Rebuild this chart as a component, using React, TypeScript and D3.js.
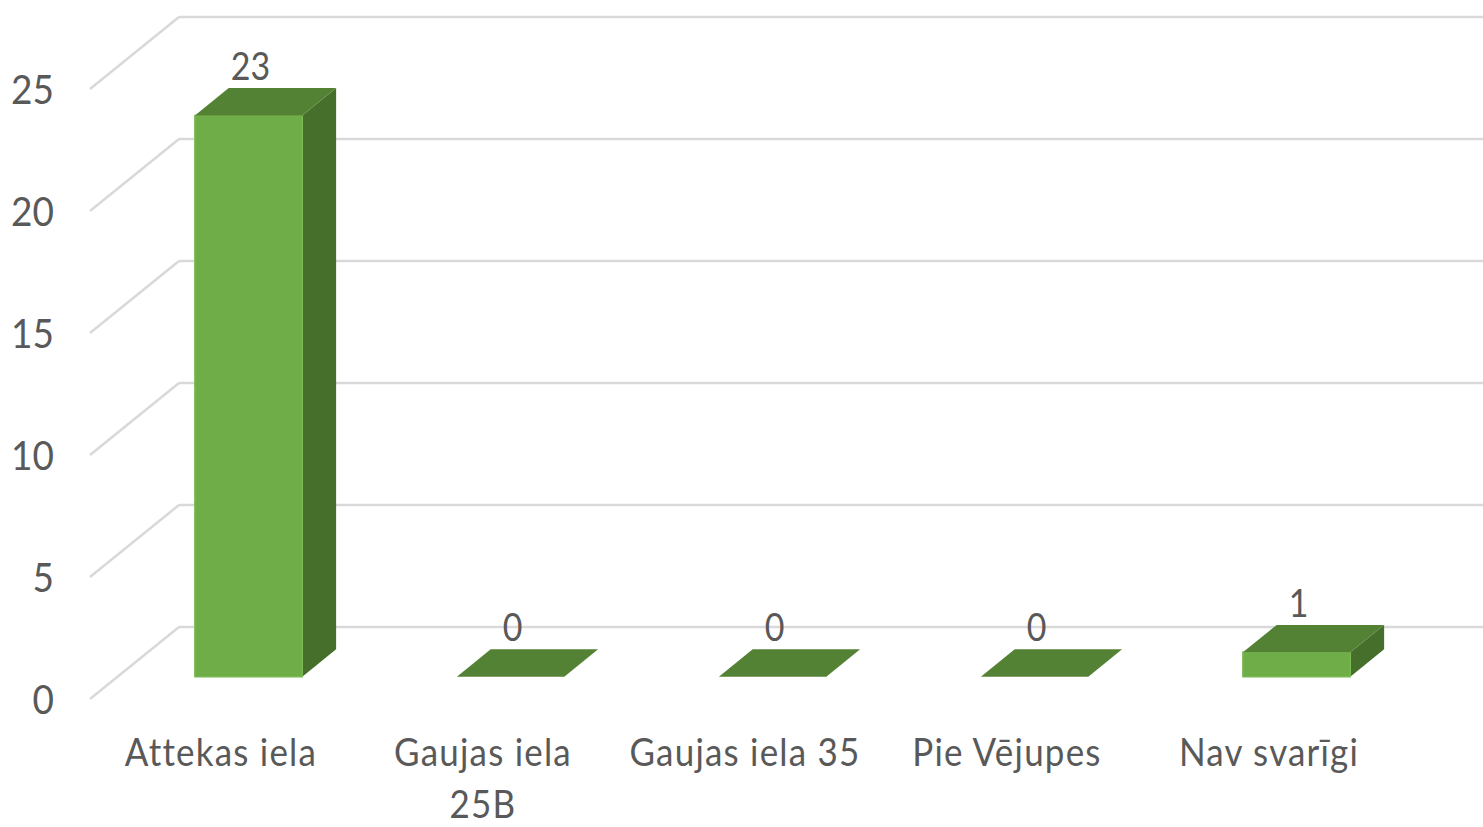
import * as d3 from 'd3';

const categories = ['Attekas iela', 'Gaujas iela 25B', 'Gaujas iela 35', 'Pie Vējupes', 'Nav svarīgi'];
const values = [23, 0, 0, 0, 1];
const yTicks = [0, 5, 10, 15, 20, 25];

const W = 1483;
const H = 827;
// oblique 3D: moving from back wall (z=0) to front edge (z=1)
const depthDx = -89;
const depthDy = 72;
const zFront = 0.69;
const zBack = 0.31;

const textColor = '#595959';
const gridColor = '#d9d9d9';
const font = 'Lato, "Open Sans", sans-serif';

function wrap(label: string, maxChars = 14): string[] {
  const words = label.split(' ');
  const lines: string[] = [];
  let cur = '';
  words.forEach((w) => {
    const next = cur ? cur + ' ' + w : w;
    if (next.length > maxChars && cur) {
      lines.push(cur);
      cur = w;
    } else cur = next;
  });
  if (cur) lines.push(cur);
  return lines;
}

export default function App() {
  const x = d3.scaleBand<string>().domain(categories).range([179, 1489]);
  const y = d3.scaleLinear().domain([0, 25]).range([627, 17]);
  const bw = x.bandwidth();
  const hw = (bw * 0.41) / 2;

  const p = (px: number, v: number, z: number) => [px + depthDx * z, y(v) + depthDy * z];
  const poly = (pts: number[][]) => pts.map((q) => q.join(',')).join(' ');
  const stretch = (yy: number) => `translate(0 ${yy}) scale(1 1.12) translate(0 ${-yy})`;

  return (
    <svg
      width={W}
      height={H}
      style={{ position: 'absolute', left: 0, top: 0, background: '#fff' }}
      fontFamily={font}
    >
      {/* back wall gridlines + side wall diagonals */}
      {yTicks.map((t) => (
        <g key={t} stroke={gridColor} strokeWidth={2.5} fill="none">
          <line x1={x.range()[0]} x2={x.range()[1]} y1={y(t)} y2={y(t)} />
          <line x1={x.range()[0]} y1={y(t)} x2={x.range()[0] + depthDx} y2={y(t) + depthDy} />
        </g>
      ))}

      {/* y tick labels at the front edge */}
      {yTicks.map((t) => (
        <text
          key={'t' + t}
          x={54}
          y={y(t) + depthDy}
          dy="0.36em"
          textAnchor="end"
          fontSize={37}
          fill={textColor}
          transform={stretch(y(t) + depthDy)}
        >
          {t}
        </text>
      ))}

      {/* bars */}
      {categories.map((c, i) => {
        const v = values[i];
        const cx = (x(c) ?? 0) + bw / 2;
        const l = cx - hw;
        const r = cx + hw;
        const front = [p(l, v, zFront), p(r, v, zFront), p(r, 0, zFront), p(l, 0, zFront)];
        const top = [p(l, v, zFront), p(r, v, zFront), p(r, v, zBack), p(l, v, zBack)];
        const side = [p(r, v, zFront), p(r, v, zBack), p(r, 0, zBack), p(r, 0, zFront)];
        const labelX = cx + depthDx * zFront + 2;
        const labelY = y(v) + depthDy * zBack - 8;
        return (
          <g key={c}>
            {v > 0 && <polygon points={poly(side)} fill="#466f2b" />}
            {v > 0 && <polygon points={poly(front)} fill="#6ead47" stroke="#78b850" strokeWidth={1.5} />}
            <polygon points={poly(top)} fill="#548235" />
            <text x={labelX} y={labelY} textAnchor="middle" fontSize={34} fill={textColor} transform={stretch(labelY)}>
              {v}
            </text>
          </g>
        );
      })}

      {/* category labels centred at the front edge */}
      {categories.map((c) => {
        const cx = (x(c) ?? 0) + bw / 2 + depthDx;
        const lines = wrap(c);
        return lines.map((ln, j) => {
          const ly = 766 + j * 52;
          return (
            <text
              key={c + j}
              x={cx}
              y={ly}
              textAnchor="middle"
              fontSize={35}
              letterSpacing={1.2}
              fill={textColor}
              transform={stretch(ly)}
            >
              {ln}
            </text>
          );
        });
      })}
    </svg>
  );
}
